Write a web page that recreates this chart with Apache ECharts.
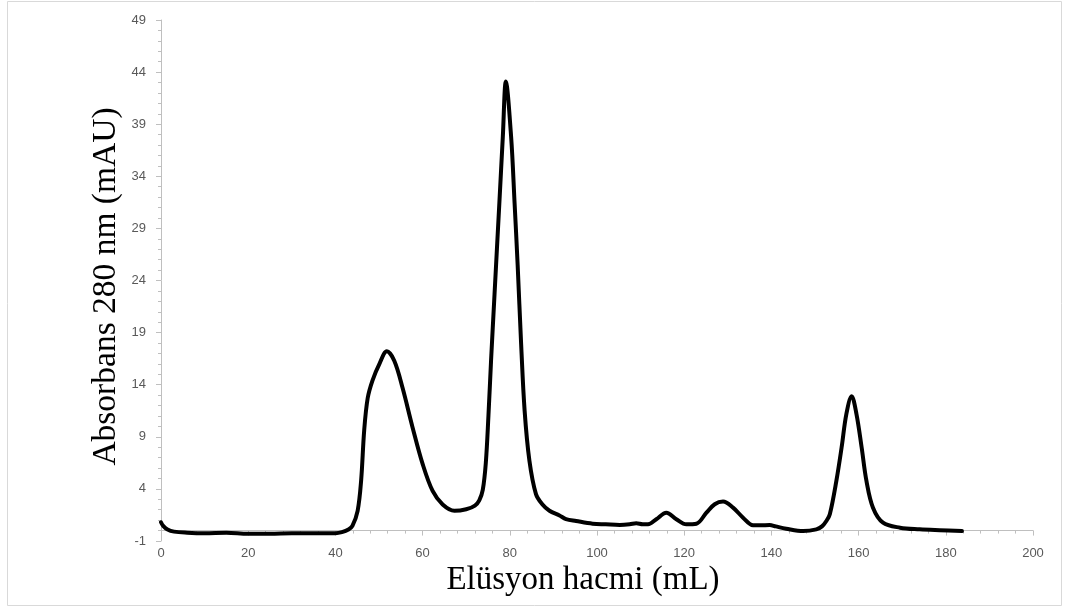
<!DOCTYPE html>
<html>
<head>
<meta charset="utf-8">
<script src="https://cdn.jsdelivr.net/npm/echarts@6/dist/echarts.min.js"></script>
<style>
  html, body { margin: 0; padding: 0; background: #ffffff; }
  #chart { width: 1066px; height: 610px; }
</style>
</head>
<body>
<div id="chart"></div>
<script>
// Elution volume (mL)
const elutionVolume = [
  0, 0.5, 1.5, 3, 6, 10, 15, 20, 25, 30, 35, 40, 41.5, 43, 43.9, 45.1, 45.9, 46.6, 47.4, 48.5,
  50.1, 51.8, 53.5, 55.4, 57.7, 60.0, 62.3, 64.6, 67.3, 70.0, 72.0, 73.0, 73.8, 74.5, 75.1, 75.7,
  76.5, 77.6, 78.4, 79.1, 80.3, 81.1, 81.8, 82.6, 83.4, 84.5, 86.0, 87.5, 89.1, 91.4, 92.9, 95.2,
  99.0, 102.0, 105.2, 107.5, 109.0, 110.5, 111.7, 113.6, 115.9, 118.2, 120.5, 122.8, 125.1,
  127.0, 128.9, 131.2, 133.5, 135.8, 137.5, 139.6, 141.0, 143.4, 147.3, 150.3, 151.6, 152.6,
  153.4, 154.9, 156.1, 157.2, 158.4, 159.5, 160.7, 161.8, 163.3, 165.6, 169.5, 174.0, 178.6, 183.7
];
// Absorbance at 280 nm (mAU)
const absorbance = [
  0.8, 0.45, 0.1, -0.1, -0.2, -0.25, -0.2, -0.3, -0.3, -0.25, -0.25, -0.25, -0.15, 0.1, 0.45, 1.9, 4.8, 9.6, 12.7, 14.4,
  16.0, 17.2, 16.3, 13.7, 9.9, 6.4, 3.8, 2.5, 1.9, 2.05, 2.4, 2.9, 3.9, 6.5, 11.0, 16.3,
  22.7, 31.4, 37.8, 43.1, 37.8, 31.4, 25.5, 17.9, 11.5, 6.7, 3.5, 2.5, 1.9, 1.45, 1.1, 0.92,
  0.66, 0.6, 0.54, 0.6, 0.7, 0.6, 0.6, 1.09, 1.72, 1.09, 0.6, 0.66, 1.72,
  2.53, 2.78, 2.2, 1.24, 0.51, 0.5, 0.54, 0.4, 0.18, -0.04, 0.12, 0.4, 0.92,
  1.57, 4.77, 7.97, 11.2, 12.9, 11.2, 7.97, 4.77, 2.2, 0.76, 0.28, 0.12, 0.03, -0.05
];
const xAxisMin = 0, xAxisMax = 200, xAxisStep = 20;
const yAxisMin = -1, yAxisMax = 49, yAxisStep = 5;
const xAxisTitle = 'Elüsyon hacmi (mL)';
const yAxisTitle = 'Absorbans 280 nm (mAU)';

const seriesData = elutionVolume.map((v, i) => [v, absorbance[i]]);

const chart = echarts.init(document.getElementById('chart'), null, { renderer: 'canvas' });
const axisGrey = '#bfbfbf';
const labelGrey = '#595959';
const titleFont = '"Liberation Serif", "Times New Roman", serif';
const labelFont = '"Liberation Sans", Arial, sans-serif';

chart.setOption({
  backgroundColor: '#ffffff',
  animation: false,
  graphic: [{
    type: 'rect',
    shape: { x: 7.5, y: 1.5, width: 1054, height: 604 },
    style: { fill: 'none', stroke: '#d9d9d9', lineWidth: 1 },
    silent: true
  }, {
    type: 'text',
    x: 583, y: 580,
    style: {
      text: xAxisTitle, fill: '#000000',
      font: '33px ' + titleFont,
      textAlign: 'center', textVerticalAlign: 'middle'
    },
    silent: true
  }, {
    type: 'text',
    x: 106, y: 286.5,
    rotation: Math.PI / 2,
    style: {
      text: yAxisTitle, fill: '#000000',
      font: '33.5px ' + titleFont,
      textAlign: 'center', textVerticalAlign: 'middle'
    },
    silent: true
  }],
  grid: { left: 161, right: 33, top: 20, bottom: 69, outerBoundsMode: 'none', containLabel: false },
  xAxis: {
    type: 'value',
    min: xAxisMin, max: xAxisMax, interval: xAxisStep,
    axisLine: { show: true, onZero: true, lineStyle: { color: axisGrey, width: 1 } },
    axisTick: { show: true, length: 5, lineStyle: { color: axisGrey } },
    minorTick: { show: true, splitNumber: 5, length: 3, lineStyle: { color: axisGrey } },
    axisLabel: { margin: 6, color: labelGrey, fontFamily: labelFont, fontSize: 13 },
    splitLine: { show: false }
  },
  yAxis: {
    type: 'value',
    min: yAxisMin, max: yAxisMax, interval: yAxisStep,
    axisLine: { show: true, onZero: false, lineStyle: { color: axisGrey, width: 1 } },
    axisTick: { show: true, length: 5, lineStyle: { color: axisGrey } },
    minorTick: { show: true, splitNumber: 5, length: 3, lineStyle: { color: axisGrey } },
    axisLabel: { margin: 15, color: labelGrey, fontFamily: labelFont, fontSize: 13 },
    splitLine: { show: false }
  },
  series: [{
    type: 'line',
    data: seriesData,
    smooth: 0.35,
    showSymbol: false,
    lineStyle: { color: '#000000', width: 4, cap: 'round', join: 'round' }
  }]
});
</script>
</body>
</html>
